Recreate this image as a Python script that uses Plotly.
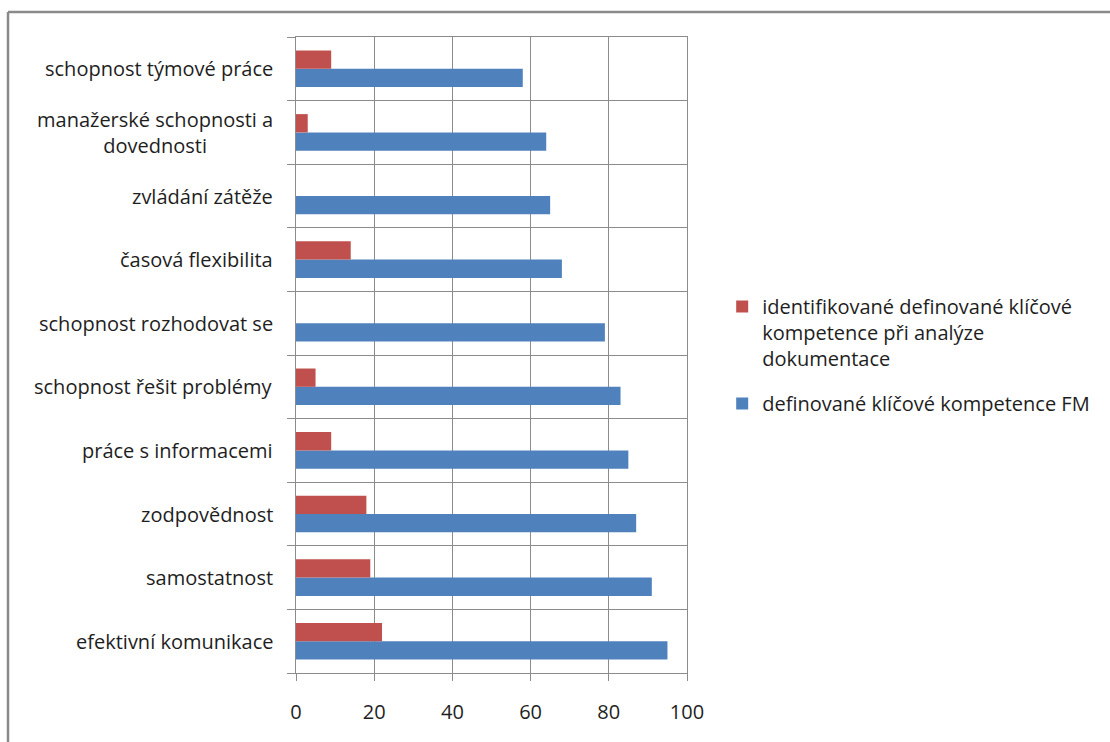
import plotly.graph_objects as go

# Categories from bottom to top of the chart
categories = [
    "efektivní komunikace",
    "samostatnost",
    "zodpovědnost",
    "práce s informacemi",
    "schopnost řešit problémy",
    "schopnost rozhodovat se",
    "časová flexibilita",
    "zvládání zátěže",
    "manažerské schopnosti a<br>dovednosti",
    "schopnost týmové práce",
]
defined_fm = [95, 91, 87, 85, 83, 79, 68, 65, 64, 58]
identified_docs = [22, 19, 18, 9, 5, 0, 14, 0, 3, 9]
x_ticks = [0, 20, 40, 60, 80, 100]

name_fm = "definované klíčové kompetence FM"
name_docs = "identifikované definované klíčové<br>kompetence při analýze<br>dokumentace"

BLUE = "#4F81BD"
RED = "#C0504D"
GRID = "#8c8c8c"
TEXT = "#1e1e1e"
FONT = "Open Sans"
FS = 20

W, H = 1110, 742
ML, MR, MT, MB = 296, 423, 37, 69
plot_w = W - ML - MR
plot_h = H - MT - MB

fig = go.Figure()
fig.add_trace(go.Bar(
    y=categories, x=defined_fm, orientation="h", name=name_fm,
    marker=dict(color=BLUE, line=dict(width=0)), legendgroup="fm",
    legendrank=2,
))
fig.add_trace(go.Bar(
    y=categories, x=identified_docs, orientation="h", name=name_docs,
    marker=dict(color=RED, line=dict(width=0)), legendgroup="docs",
    legendrank=1,
))

# Category labels, centred line by line, placed left of the plot area
annotations = [
    dict(
        text=c, x=0, xref="paper", y=c, yref="y", xanchor="right",
        yanchor="middle", align="center", xshift=-21, showarrow=False,
        font=dict(family=FONT, size=FS, color=TEXT),
    )
    for c in categories
]

# Outer frame around the chart (top and left edges visible)
fx0 = (8 - ML) / plot_w
fy1 = (H - MB - 12) / plot_h
shapes = [
    dict(type="line", xref="paper", yref="paper", x0=fx0, x1=3.0, y0=fy1, y1=fy1,
         line=dict(color="#8a8a8a", width=2.5)),
    dict(type="line", xref="paper", yref="paper", x0=fx0, x1=fx0, y0=-0.3, y1=fy1,
         line=dict(color="#8a8a8a", width=2.5)),
]

fig.update_layout(
    width=W, height=H,
    margin=dict(l=ML, r=MR, t=MT, b=MB),
    paper_bgcolor="white", plot_bgcolor="white",
    barmode="group", bargap=0.425, bargroupgap=0,
    font=dict(family=FONT, size=FS, color=TEXT),
    showlegend=True,
    legend=dict(
        x=1.09, xanchor="left", y=0.5, yanchor="middle",
        traceorder="grouped", tracegroupgap=16, valign="top",
        font=dict(family=FONT, size=FS, color=TEXT),
        itemwidth=30, bgcolor="rgba(0,0,0,0)",
    ),
    annotations=annotations,
    shapes=shapes,
    xaxis=dict(
        range=[0, 100], tickvals=x_ticks, showgrid=True, gridcolor=GRID,
        gridwidth=1, zeroline=False, showline=True, linecolor=GRID,
        linewidth=1, mirror=True, ticks="outside", ticklen=7,
        tickcolor=GRID, tickfont=dict(family=FONT, size=FS, color=TEXT),
        ticklabelstandoff=14,
    ),
    yaxis=dict(
        type="category", categoryorder="array", categoryarray=categories,
        tickson="boundaries", showgrid=True, gridcolor=GRID, gridwidth=1,
        showticklabels=False, ticks="outside", ticklen=8, tickcolor=GRID,
        showline=True, linecolor=GRID, linewidth=1, mirror=True,
        zeroline=False,
    ),
)

fig.write_html("out.html")
